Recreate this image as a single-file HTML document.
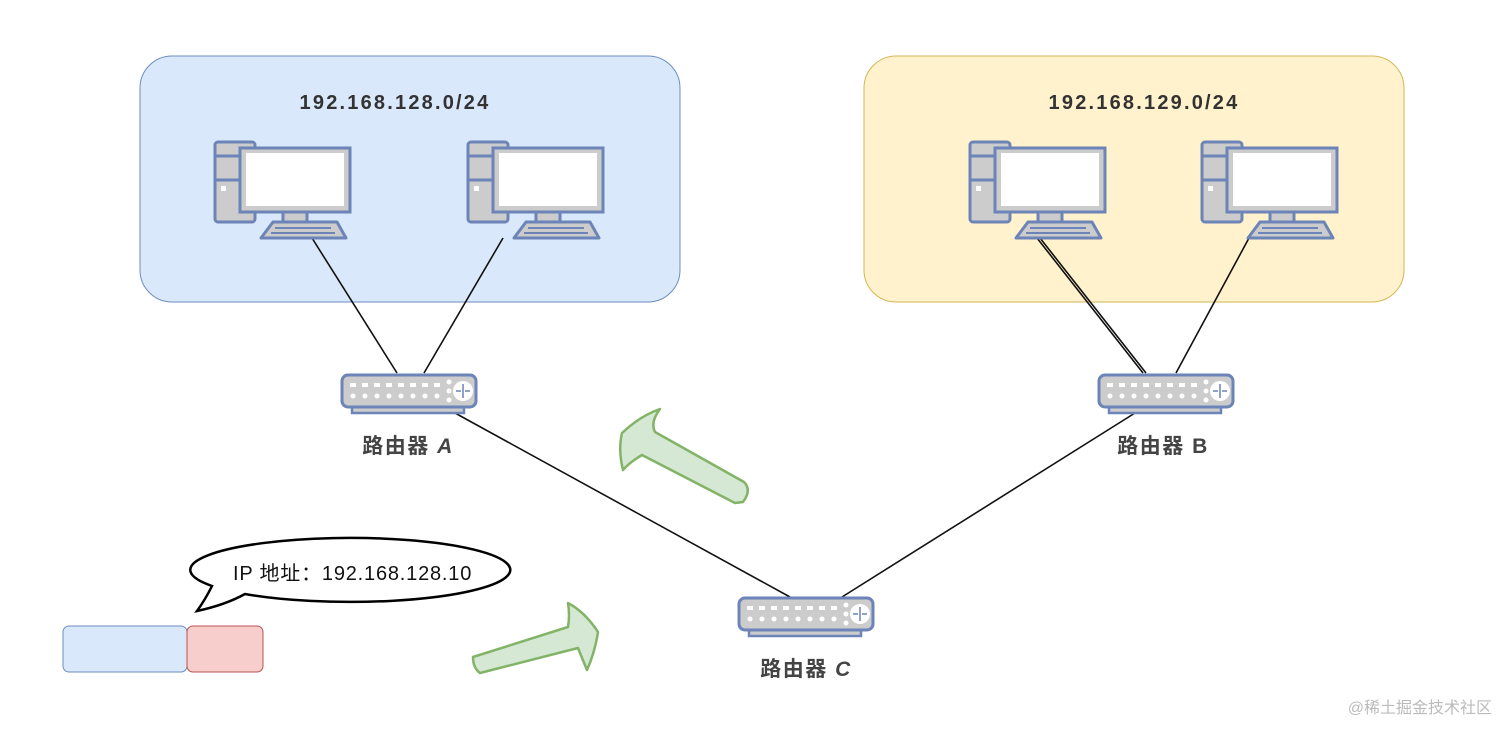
<!DOCTYPE html>
<html><head><meta charset="utf-8"><style>
html,body{margin:0;padding:0;background:#fff;}
svg{display:block;}
text{font-family:"Liberation Sans","Noto Sans CJK SC",sans-serif;}
</style></head><body>
<svg width="1512" height="737" viewBox="0 0 1512 737" xmlns="http://www.w3.org/2000/svg">
<defs>
<g id="pc">
  <rect x="2" y="2" width="40" height="80" rx="3" fill="#ccc" stroke="#6c84b8" stroke-width="3"/>
  <line x1="2" y1="16" x2="42" y2="16" stroke="#6c84b8" stroke-width="3"/>
  <line x1="2" y1="40" x2="42" y2="40" stroke="#6c84b8" stroke-width="3"/>
  <rect x="8" y="46" width="5" height="5" fill="#fff"/>
  <rect x="27" y="8" width="110" height="64" fill="#ccc" stroke="#6c84b8" stroke-width="3"/>
  <rect x="33" y="13" width="98" height="53" fill="#fff"/>
  <rect x="70" y="72" width="24" height="10" fill="#ccc" stroke="#6c84b8" stroke-width="3"/>
  <path d="M48 98 L60 82 L124 82 L133 98 Z" fill="#ccc" stroke="#6c84b8" stroke-width="3" stroke-linejoin="round"/>
  <line x1="62" y1="88" x2="118" y2="88" stroke="#6c84b8" stroke-width="2"/>
  <line x1="58" y1="93" x2="122" y2="93" stroke="#6c84b8" stroke-width="2"/>
</g>
<g id="rt">
  <rect x="12" y="30" width="112" height="10" fill="#ccc" stroke="#6c84b8" stroke-width="2.5"/>
  <rect x="2" y="2" width="134" height="32" rx="6" fill="#ccc" stroke="#6c84b8" stroke-width="3"/>
  <g fill="#fff">
    <rect x="10" y="10" width="6" height="4"/><rect x="22" y="10" width="6" height="4"/><rect x="34" y="10" width="6" height="4"/><rect x="46" y="10" width="6" height="4"/><rect x="58" y="10" width="6" height="4"/><rect x="70" y="10" width="6" height="4"/><rect x="82" y="10" width="6" height="4"/><rect x="94" y="10" width="6" height="4"/>
    <circle cx="13" cy="23" r="2.5"/><circle cx="25" cy="23" r="2.5"/><circle cx="37" cy="23" r="2.5"/><circle cx="49" cy="23" r="2.5"/><circle cx="61" cy="23" r="2.5"/><circle cx="73" cy="23" r="2.5"/><circle cx="85" cy="23" r="2.5"/><circle cx="97" cy="23" r="2.5"/>
    <circle cx="109" cy="9" r="2.5"/><circle cx="109" cy="18" r="2.5"/><circle cx="109" cy="27" r="2.5"/>
    <circle cx="123" cy="18" r="10"/>
  </g>
  <path d="M123 11 V25 M116 18 H121 M130 18 H125" stroke="#6c84b8" stroke-width="1.5" fill="none"/>
</g>
</defs>
<rect x="140" y="56" width="540" height="246" rx="32" fill="#dae8fc" stroke="#6c8ebf" stroke-width="1"/>
<rect x="864" y="56" width="540" height="246" rx="32" fill="#fff2cc" stroke="#d6b656" stroke-width="1"/>
<text x="395" y="109" font-size="20" font-weight="bold" fill="#333" text-anchor="middle" letter-spacing="2.2">192.168.128.0/24</text>
<text x="1144" y="109" font-size="20" font-weight="bold" fill="#333" text-anchor="middle" letter-spacing="2.2">192.168.129.0/24</text>
<g stroke="#111" stroke-width="1.6" fill="none">
  <line x1="312" y1="238" x2="397" y2="373"/>
  <line x1="503" y1="238" x2="424" y2="373"/>
  <line x1="1037" y1="238" x2="1143" y2="373"/>
  <line x1="1040" y1="238" x2="1146" y2="373"/>
  <line x1="1249" y1="238" x2="1176" y2="373"/>
  <line x1="455" y1="413" x2="790" y2="597"/>
  <line x1="1135" y1="413" x2="842" y2="597"/>
</g>
<use href="#pc" x="213" y="140"/>
<use href="#pc" x="466" y="140"/>
<use href="#pc" x="968" y="140"/>
<use href="#pc" x="1200" y="140"/>
<use href="#rt" x="340" y="373"/>
<use href="#rt" x="1097" y="373"/>
<use href="#rt" x="737" y="596"/>
<text x="408" y="453" font-size="21" font-weight="bold" fill="#444" text-anchor="middle" letter-spacing="1.5">路由器 <tspan font-style="italic">A</tspan></text>
<text x="1163" y="453" font-size="21" font-weight="bold" fill="#444" text-anchor="middle" letter-spacing="1.5">路由器 B</text>
<text x="806" y="676" font-size="21" font-weight="bold" fill="#444" text-anchor="middle" letter-spacing="1.5">路由器 <tspan font-style="italic">C</tspan></text>
<path d="M660 409 Q650 422 655 432 L744 482 Q752 490 743 502 L735 503 L642 455 Q630 462 623 470 Q618 450 622 433 Q640 416 660 409 Z" fill="#d5e8d4" stroke="#82b366" stroke-width="2.5" stroke-linejoin="round"/>
<path d="M473 657 L568 627 Q570 615 568 603 Q585 612 598 632 Q595 652 587 670 Q582 658 578 648 L480 673 Q473 668 473 657 Z" fill="#d5e8d4" stroke="#82b366" stroke-width="2.5" stroke-linejoin="round"/>
<path d="M245 594 A160 32 0 1 0 212 586 Q205 600 197 611 Q225 605 245 594 Z" fill="#fff" stroke="#000" stroke-width="2.5"/>
<text x="233" y="580" font-size="20" fill="#111" letter-spacing="0.8">IP 地址：192.168.128.10</text>
<rect x="63" y="626" width="124" height="46" rx="6" fill="#dae8fc" stroke="#6c8ebf" stroke-width="1"/>
<rect x="187" y="626" width="76" height="46" rx="6" fill="#f8cecc" stroke="#b85450" stroke-width="1"/>
<text x="1492" y="713" font-size="16" fill="#bbb" text-anchor="end">@稀土掘金技术社区</text>
</svg>
</body></html>
